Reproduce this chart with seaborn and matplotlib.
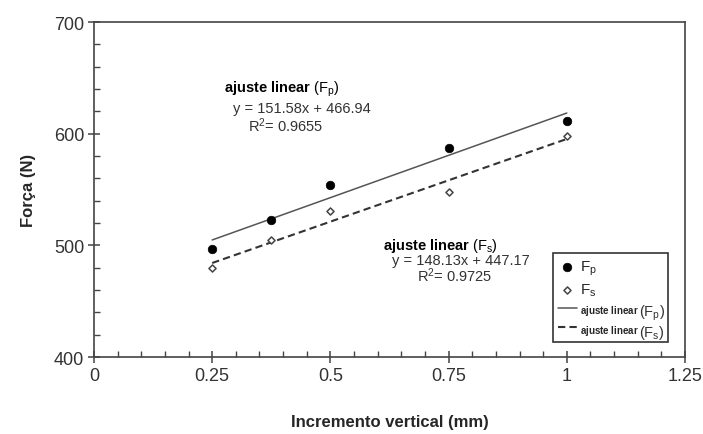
import matplotlib
matplotlib.use("Agg")
import matplotlib.pyplot as plt
import matplotlib.ticker as mticker
from matplotlib.patches import Rectangle
from matplotlib.transforms import Bbox, IdentityTransform
import numpy as np
import seaborn as sns

# data
incremento = [0.25, 0.375, 0.5, 0.75, 1.0]
forca_p = [497, 523, 554, 587, 611]
forca_s = [480, 505, 531, 548, 598]

# fitted lines as printed on the chart
slope_p, intercept_p, r2_p = 151.58, 466.94, 0.9655
slope_s, intercept_s, r2_s = 148.13, 447.17, 0.9725
fit_x = [0.25, 1.0]

xticks = [0, 0.25, 0.5, 0.75, 1, 1.25]
xtick_labels = ["0", "0.25", "0.5", "0.75", "1", "1.25"]
yticks = [400, 500, 600, 700]

sns.set_theme(style="white")
plt.rcParams["font.family"] = ["Liberation Sans", "DejaVu Sans"]
plt.rcParams["mathtext.fontset"] = "custom"
plt.rcParams["mathtext.rm"] = "Liberation Sans"
plt.rcParams["mathtext.it"] = "Liberation Sans:italic"
plt.rcParams["mathtext.bf"] = "Liberation Sans:bold"

fig = plt.figure(figsize=(7.03, 4.35), dpi=100)
ax = fig.add_axes([0.1337, 0.177, 0.8407, 0.770])

sns.scatterplot(x=incremento, y=forca_p, marker="o", color="black", edgecolor="black",
                s=38, ax=ax, label="F$_\\mathrm{p}$", zorder=3)
sns.scatterplot(x=incremento, y=forca_s, marker="D", facecolor="white", edgecolor="#444444",
                linewidth=1.1, s=13, ax=ax, label="F$_\\mathrm{s}$", zorder=3)

fx = np.array(fit_x)
sns.lineplot(x=fx, y=slope_p * fx + intercept_p, color="#555555", linewidth=1.1, ax=ax,
             label=r"$\mathbf{ajuste\ linear}$")
sns.lineplot(x=fx, y=slope_s * fx + intercept_s, color="#333333", linewidth=1.5,
             linestyle=(0, (3.5, 2)), ax=ax, label=r"$\mathbf{ajuste\ linear}$ ")

ax.set_xlim(0, 1.25)
ax.set_ylim(400, 700)
ax.set_xticks(xticks)
ax.set_xticklabels(xtick_labels)
ax.set_yticks(yticks)
ax.xaxis.set_minor_locator(mticker.MultipleLocator(0.05))
ax.yaxis.set_minor_locator(mticker.MultipleLocator(20))
ax.tick_params(which="major", direction="inout", length=8, width=1.1, color="#444444",
               labelsize=13, labelcolor="#333333", pad=3, bottom=True, left=True)
ax.tick_params(which="minor", direction="in", length=4, width=1.0, color="#444444",
               bottom=True, left=True)
for s in ax.spines.values():
    s.set_color("#444444")
    s.set_linewidth(1.2)

ax.set_xlabel("Incremento vertical (mm)", fontsize=12, fontweight="bold", labelpad=22)
ax.set_ylabel("Força (N)", fontsize=12, fontweight="bold", labelpad=13)

# fit annotations
txt_kw = dict(fontsize=10.5, color="#333333", va="baseline", ha="left")
ax.text(0.2756, 637.3, r"$\mathbf{ajuste\ linear}$ (F$_\mathrm{p}$)", fontsize=10.5,
        color="black", va="baseline", ha="left")
ax.text(0.294, 619.4, f"y = {slope_p}x + {intercept_p}", **txt_kw)
ax.text(0.3257, 602.4, f"R$^2$= {r2_p}", **txt_kw)
ax.text(0.6106, 496.8, r"$\mathbf{ajuste\ linear}$ (F$_\mathrm{s}$)", fontsize=10.5,
        color="black", va="baseline", ha="left")
ax.text(0.6297, 483.3, f"y = {slope_s}x + {intercept_s}", **txt_kw)
ax.text(0.6825, 468.1, f"R$^2$= {r2_s}", **txt_kw)

# legend
handles, labels = ax.get_legend_handles_labels()
leg = ax.legend(handles, labels, loc="lower left", bbox_to_anchor=(0.7766, 0.045),
                borderaxespad=0, fontsize=11, handlelength=1.2, handletextpad=0.25,
                labelspacing=0.3, borderpad=0.35, scatterpoints=1, frameon=False)
texts = leg.get_texts()
texts[2].set_fontsize(7)
texts[3].set_fontsize(7)
anns = []
for t, sub in zip(texts[2:], ["p", "s"]):
    a = ax.annotate("(F$_\\mathrm{%s}$)" % sub, xy=(1, 0.35), xycoords=t,
                    va="center", ha="left", fontsize=10.5, color="#333333")
    anns.append(a)

fig.canvas.draw()
bb = Bbox.union([leg.get_window_extent()] + [a.get_window_extent() for a in anns])
frame = Rectangle((bb.x0, bb.y0), bb.width + 3, bb.height, transform=IdentityTransform(),
                  fill=False, edgecolor="#333333", linewidth=1.2, zorder=5)
fig.patches.append(frame)

plt.savefig("out.png", dpi=100)
